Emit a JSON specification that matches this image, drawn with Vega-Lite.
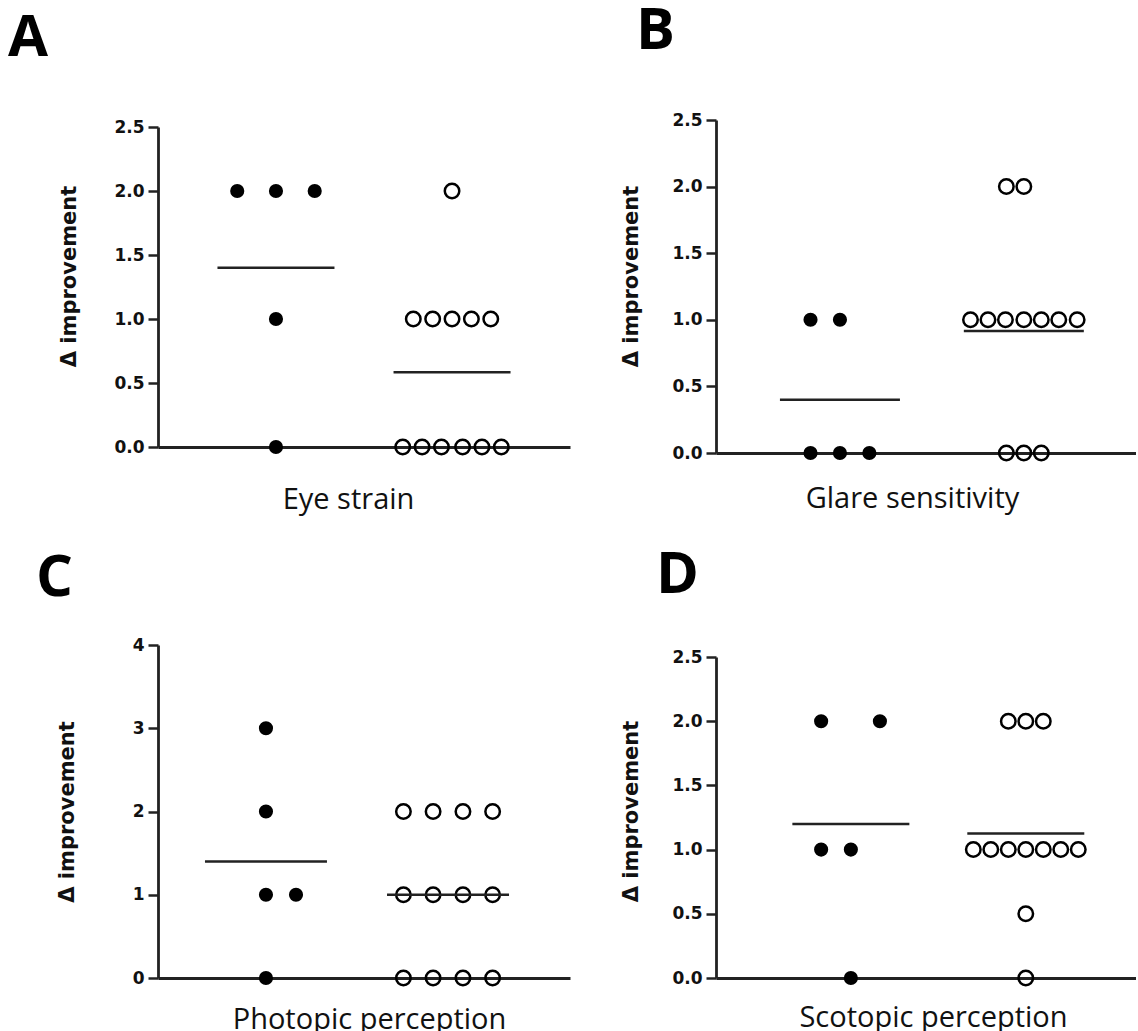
{
  "$schema": "https://vega.github.io/schema/vega-lite/v6.json",
  "padding": {"left": 8, "top": 3, "right": 0, "bottom": 0},
  "background": "white",
  "data": {"values": [
    {"panel": "A", "group": 1, "value": 2, "pos": 0.78},
    {"panel": "A", "group": 1, "value": 2, "pos": 1.0},
    {"panel": "A", "group": 1, "value": 2, "pos": 1.22},
    {"panel": "A", "group": 1, "value": 1, "pos": 1.0},
    {"panel": "A", "group": 1, "value": 0, "pos": 1.0},
    {"panel": "A", "group": 2, "value": 2, "pos": 2.0},
    {"panel": "A", "group": 2, "value": 1, "pos": 1.78},
    {"panel": "A", "group": 2, "value": 1, "pos": 1.89},
    {"panel": "A", "group": 2, "value": 1, "pos": 2.0},
    {"panel": "A", "group": 2, "value": 1, "pos": 2.11},
    {"panel": "A", "group": 2, "value": 1, "pos": 2.22},
    {"panel": "A", "group": 2, "value": 0, "pos": 1.72},
    {"panel": "A", "group": 2, "value": 0, "pos": 1.83},
    {"panel": "A", "group": 2, "value": 0, "pos": 1.94},
    {"panel": "A", "group": 2, "value": 0, "pos": 2.06},
    {"panel": "A", "group": 2, "value": 0, "pos": 2.17},
    {"panel": "A", "group": 2, "value": 0, "pos": 2.28},
    {"panel": "B", "group": 1, "value": 1, "pos": 0.84},
    {"panel": "B", "group": 1, "value": 1, "pos": 1.0},
    {"panel": "B", "group": 1, "value": 0, "pos": 0.84},
    {"panel": "B", "group": 1, "value": 0, "pos": 1.0},
    {"panel": "B", "group": 1, "value": 0, "pos": 1.16},
    {"panel": "B", "group": 2, "value": 2, "pos": 1.905},
    {"panel": "B", "group": 2, "value": 2, "pos": 2.0},
    {"panel": "B", "group": 2, "value": 1, "pos": 1.71},
    {"panel": "B", "group": 2, "value": 1, "pos": 1.805},
    {"panel": "B", "group": 2, "value": 1, "pos": 1.9},
    {"panel": "B", "group": 2, "value": 1, "pos": 2.0},
    {"panel": "B", "group": 2, "value": 1, "pos": 2.095},
    {"panel": "B", "group": 2, "value": 1, "pos": 2.19},
    {"panel": "B", "group": 2, "value": 1, "pos": 2.29},
    {"panel": "B", "group": 2, "value": 0, "pos": 1.905},
    {"panel": "B", "group": 2, "value": 0, "pos": 2.0},
    {"panel": "B", "group": 2, "value": 0, "pos": 2.095},
    {"panel": "C", "group": 1, "value": 3, "pos": 1.0},
    {"panel": "C", "group": 1, "value": 2, "pos": 1.0},
    {"panel": "C", "group": 1, "value": 1, "pos": 1.0},
    {"panel": "C", "group": 1, "value": 1, "pos": 1.165},
    {"panel": "C", "group": 1, "value": 0, "pos": 1.0},
    {"panel": "C", "group": 2, "value": 2, "pos": 1.755},
    {"panel": "C", "group": 2, "value": 2, "pos": 1.918},
    {"panel": "C", "group": 2, "value": 2, "pos": 2.082},
    {"panel": "C", "group": 2, "value": 2, "pos": 2.245},
    {"panel": "C", "group": 2, "value": 1, "pos": 1.755},
    {"panel": "C", "group": 2, "value": 1, "pos": 1.918},
    {"panel": "C", "group": 2, "value": 1, "pos": 2.082},
    {"panel": "C", "group": 2, "value": 1, "pos": 2.245},
    {"panel": "C", "group": 2, "value": 0, "pos": 1.755},
    {"panel": "C", "group": 2, "value": 0, "pos": 1.918},
    {"panel": "C", "group": 2, "value": 0, "pos": 2.082},
    {"panel": "C", "group": 2, "value": 0, "pos": 2.245},
    {"panel": "D", "group": 1, "value": 2, "pos": 0.83},
    {"panel": "D", "group": 1, "value": 2, "pos": 1.166},
    {"panel": "D", "group": 1, "value": 1, "pos": 0.83},
    {"panel": "D", "group": 1, "value": 1, "pos": 1.0},
    {"panel": "D", "group": 1, "value": 0, "pos": 1.0},
    {"panel": "D", "group": 2, "value": 2, "pos": 1.9},
    {"panel": "D", "group": 2, "value": 2, "pos": 2.0},
    {"panel": "D", "group": 2, "value": 2, "pos": 2.1},
    {"panel": "D", "group": 2, "value": 1, "pos": 1.7},
    {"panel": "D", "group": 2, "value": 1, "pos": 1.8},
    {"panel": "D", "group": 2, "value": 1, "pos": 1.9},
    {"panel": "D", "group": 2, "value": 1, "pos": 2.0},
    {"panel": "D", "group": 2, "value": 1, "pos": 2.1},
    {"panel": "D", "group": 2, "value": 1, "pos": 2.2},
    {"panel": "D", "group": 2, "value": 1, "pos": 2.3},
    {"panel": "D", "group": 2, "value": 0.5, "pos": 2.0},
    {"panel": "D", "group": 2, "value": 0, "pos": 2.0}
  ]},
  "columns": 2,
  "spacing": {"column": 50, "row": 33},
  "concat": [
    {
      "title": {"text": "A", "dx": -150, "offset": 50},
      "width": 412, "height": 333,
      "transform": [{"filter": "datum.panel == 'A'"}],
      "layer": [
        {"transform": [{"filter": "datum.group == 1"}],
         "mark": {"type": "point", "shape": "circle", "filled": true, "size": 200, "color": "#000", "opacity": 1},
         "encoding": {
           "x": {"field": "pos", "type": "quantitative", "scale": {"domain": [0.33, 2.67], "nice": false, "zero": false}, "axis": {"title": "Eye strain", "titlePadding": 38, "offset": -6, "titleX": 190}},
           "y": {"field": "value", "type": "quantitative", "scale": {"domain": [0, 2.5], "nice": false, "range": [327, 7]}, "axis": {"title": "Δ improvement", "values": [0, 0.5, 1, 1.5, 2, 2.5], "format": ".1f", "titlePadding": 34, "titleY": 156}}}},
        {"transform": [{"filter": "datum.group == 2"}],
         "mark": {"type": "point", "shape": "circle", "filled": false, "size": 210, "stroke": "#000", "strokeWidth": 2.5, "opacity": 1},
         "encoding": {
           "x": {"field": "pos", "type": "quantitative"},
           "y": {"field": "value", "type": "quantitative"}}},
        {"transform": [{"aggregate": [{"op": "mean", "field": "value", "as": "mean"}], "groupby": ["group"]}],
         "mark": {"type": "tick", "orient": "horizontal", "size": 117, "thickness": 2.5, "color": "#222", "opacity": 1},
         "encoding": {
           "x": {"field": "group", "type": "quantitative", "title": "Eye strain"},
           "y": {"field": "mean", "type": "quantitative", "title": "Δ improvement"}}}
      ]
    },
    {
      "title": {"text": "B", "dx": -80, "offset": 50},
      "width": 420, "height": 333,
      "transform": [{"filter": "datum.panel == 'B'"}],
      "layer": [
        {"transform": [{"filter": "datum.group == 1"}],
         "mark": {"type": "point", "shape": "circle", "filled": true, "size": 200, "color": "#000", "opacity": 1},
         "encoding": {
           "x": {"field": "pos", "type": "quantitative", "scale": {"domain": [0.326, 2.61], "nice": false, "zero": false}, "axis": {"title": "Glare sensitivity", "titlePadding": 31, "titleX": 196}},
           "y": {"field": "value", "type": "quantitative", "scale": {"domain": [0, 2.5], "nice": false}, "axis": {"title": "Δ improvement", "values": [0, 0.5, 1, 1.5, 2, 2.5], "format": ".1f", "titlePadding": 30, "titleY": 156}}}},
        {"transform": [{"filter": "datum.group == 2"}],
         "mark": {"type": "point", "shape": "circle", "filled": false, "size": 210, "stroke": "#000", "strokeWidth": 2.5, "opacity": 1},
         "encoding": {
           "x": {"field": "pos", "type": "quantitative"},
           "y": {"field": "value", "type": "quantitative"}}},
        {"transform": [{"aggregate": [{"op": "mean", "field": "value", "as": "mean"}], "groupby": ["group"]}],
         "mark": {"type": "tick", "orient": "horizontal", "size": 120, "thickness": 2.5, "color": "#222", "opacity": 1},
         "encoding": {
           "x": {"field": "group", "type": "quantitative", "title": "Glare sensitivity"},
           "y": {"field": "mean", "type": "quantitative", "title": "Δ improvement"}}}
      ]
    },
    {
      "title": {"text": "C", "dx": -122, "offset": 28},
      "width": 412, "height": 333,
      "transform": [{"filter": "datum.panel == 'C'"}],
      "layer": [
        {"transform": [{"filter": "datum.group == 1"}],
         "mark": {"type": "point", "shape": "circle", "filled": true, "size": 200, "color": "#000", "opacity": 1},
         "encoding": {
           "x": {"field": "pos", "type": "quantitative", "scale": {"domain": [0.407, 2.67], "nice": false, "zero": false}, "axis": {"title": "Photopic perception", "titlePadding": 27, "titleX": 211}},
           "y": {"field": "value", "type": "quantitative", "scale": {"domain": [0, 4], "nice": false}, "axis": {"title": "Δ improvement", "values": [0, 1, 2, 3, 4], "format": "d", "titlePadding": 55}}}},
        {"transform": [{"filter": "datum.group == 2"}],
         "mark": {"type": "point", "shape": "circle", "filled": false, "size": 210, "stroke": "#000", "strokeWidth": 2.5, "opacity": 1},
         "encoding": {
           "x": {"field": "pos", "type": "quantitative"},
           "y": {"field": "value", "type": "quantitative"}}},
        {"transform": [{"aggregate": [{"op": "mean", "field": "value", "as": "mean"}], "groupby": ["group"]}],
         "mark": {"type": "tick", "orient": "horizontal", "size": 122, "thickness": 2.5, "color": "#222", "opacity": 1},
         "encoding": {
           "x": {"field": "group", "type": "quantitative", "title": "Photopic perception"},
           "y": {"field": "mean", "type": "quantitative", "title": "Δ improvement"}}}
      ]
    },
    {
      "title": {"text": "D", "dx": -60, "offset": 40},
      "width": 420, "height": 333,
      "transform": [{"filter": "datum.panel == 'D'"}],
      "layer": [
        {"transform": [{"filter": "datum.group == 1"}],
         "mark": {"type": "point", "shape": "circle", "filled": true, "size": 200, "color": "#000", "opacity": 1},
         "encoding": {
           "x": {"field": "pos", "type": "quantitative", "scale": {"domain": [0.229, 2.63], "nice": false, "zero": false}, "axis": {"title": "Scotopic perception", "titlePadding": 25, "titleX": 217}},
           "y": {"field": "value", "type": "quantitative", "scale": {"domain": [0, 2.5], "nice": false, "range": [333, 12]}, "axis": {"title": "Δ improvement", "values": [0, 0.5, 1, 1.5, 2, 2.5], "format": ".1f", "titlePadding": 30, "titleY": 166}}}},
        {"transform": [{"filter": "datum.group == 2"}],
         "mark": {"type": "point", "shape": "circle", "filled": false, "size": 210, "stroke": "#000", "strokeWidth": 2.5, "opacity": 1},
         "encoding": {
           "x": {"field": "pos", "type": "quantitative"},
           "y": {"field": "value", "type": "quantitative"}}},
        {"transform": [{"aggregate": [{"op": "mean", "field": "value", "as": "mean"}], "groupby": ["group"]}],
         "mark": {"type": "tick", "orient": "horizontal", "size": 117, "thickness": 2.5, "color": "#222", "opacity": 1},
         "encoding": {
           "x": {"field": "group", "type": "quantitative", "title": "Scotopic perception"},
           "y": {"field": "mean", "type": "quantitative", "title": "Δ improvement"}}}
      ]
    }
  ],
  "config": {
    "view": {"stroke": null},
    "title": {"anchor": "start", "frame": "group", "font": "Open Sans", "fontSize": 58, "fontWeight": "bold", "color": "#000"},
    "axis": {"grid": false, "domainColor": "#222", "domainWidth": 2.8, "tickColor": "#222", "tickWidth": 2.5, "tickSize": 10, "labelPadding": 4, "labelFont": "DejaVu Sans", "labelFontWeight": "bold", "labelFontSize": 17, "labelColor": "#111", "titleColor": "#111"},
    "axisY": {"titleFont": "DejaVu Sans", "titleFontWeight": "bold", "titleFontSize": 21},
    "axisX": {"titleFont": "Open Sans", "titleFontWeight": "normal", "titleFontSize": 29, "labels": false, "ticks": false}
  }
}
